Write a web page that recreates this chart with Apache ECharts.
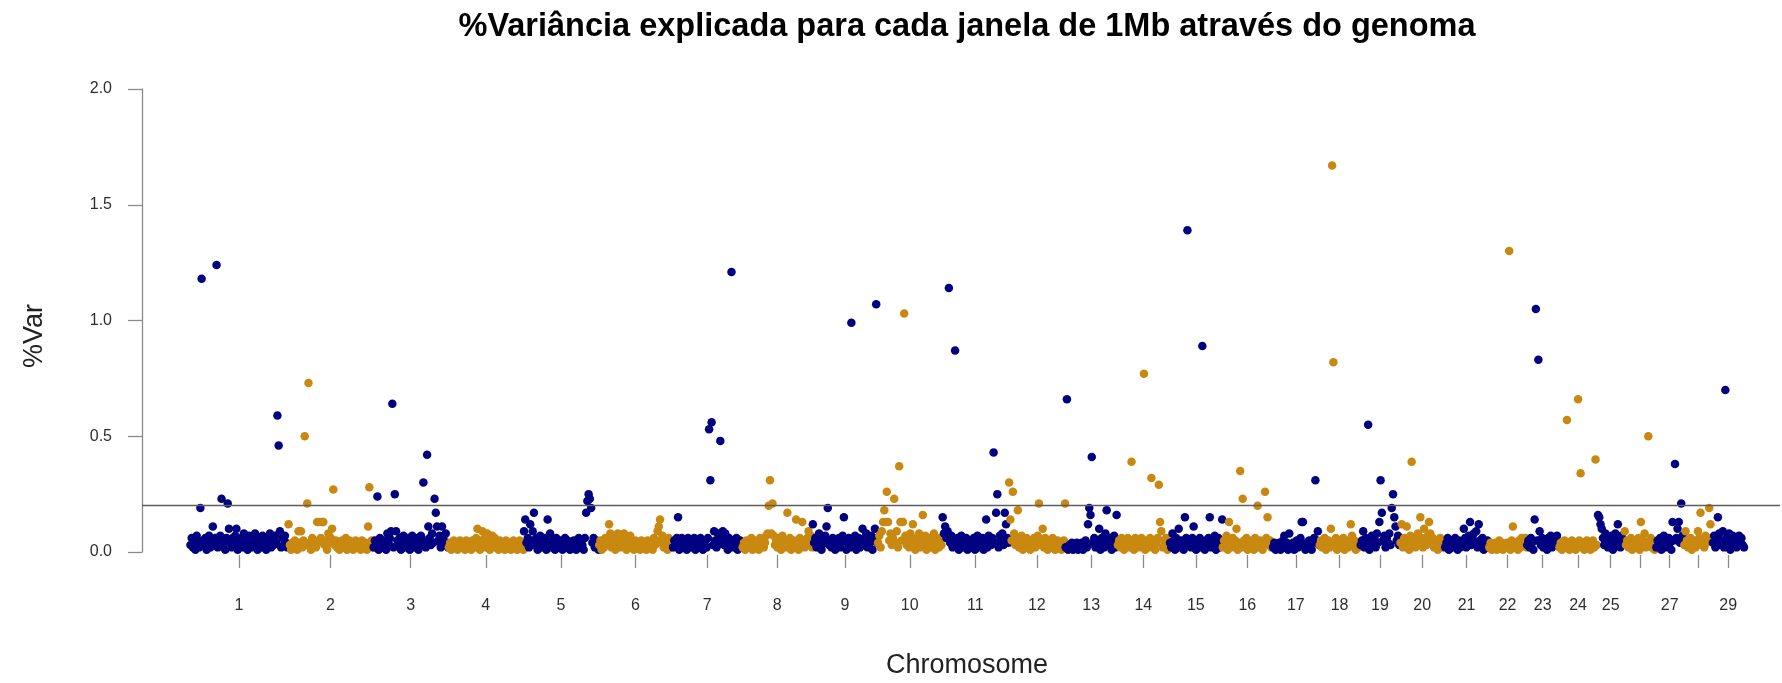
<!DOCTYPE html>
<html>
<head>
<meta charset="utf-8">
<script src="https://cdn.jsdelivr.net/npm/echarts@6/dist/echarts.min.js"></script>
<style>
html,body{margin:0;padding:0;background:#fff;}
#chart{width:1782px;height:683px;}
</style>
</head>
<body>
<div id="chart"></div>
<script>
// Chromosome names and lengths (Mb)
const chromosomes = ['1','2','3','4','5','6','7','8','9','10','11','12','13','14','15','16','17','18','19','20','21','22','23','24','25','26','27','28','29'];
const chromLengthsMb = [158,137,121,121,121,119,112,113,105,104,107,91,84,84,85,81,75,66,64,72,71,61,52,62,43,51,45,46,51];
// chromosome labels that are not printed under their tick
const hiddenTickLabels = ['26','28'];
// windows are listed every 2 Mb along each chromosome
const WINDOW_STEP_MB = 2;
const yTicks = [0, 0.5, 1.0, 1.5, 2.0];
const threshold = 0.2;

// %Var per window
const chr1 = [.03,.06,.02,.05,.01,.07,.04,.02,.19,1.18, .05,.03,.06,.01,.04,.07,.02,.05,.11,.03, .06,1.24,.02,.04,.07,.23,.03,.05,.01,.06, .21,.10,.04,.02,.06,.03,.07,.10,.01,.05, .04,.06,.02,.08,.03,.05,.01,.07,.04,.02, .06,.03,.08,.05,.01,.04,.06,.02,.07,.03, .05,.01,.06,.04,.08,.02,.05,.03,.07,.04, .59,.46,.09,.02,.06,.03,.07,.04,.02];
const chr2 = [.12,.03,.01,.04,.02,.05,.03,.01,.09,.04, .09,.02,.05,.50,.03,.21,.73,.04,.01,.06, .03,.05,.02,.13,.04,.13,.06,.13,.13,.03, .05,.01,.08,.04,.06,.10,.27,.03,.05,.02, .04,.01,.03,.05,.02,.04,.06,.01,.03,.05, .02,.04,.01,.03,.05,.02,.04,.03,.01,.05, .03,.02,.04,.01,.11,.28,.03,.05,.02];
const chr3 = [.02,.05,.03,.24,.01,.06,.04,.02,.05,.03, .01,.08,.04,.06,.09,.64,.02,.25,.09,.05, .03,.06,.01,.04,.07,.02,.05,.03,.06,.01, .04,.07,.02,.05,.03,.06,.01,.04,.07,.03, .30,.05,.02,.42,.11,.06,.03,.08,.04,.23, .17,.11,.05,.07,.02,.11,.06,.03,.08,.04, .02];
const chr4 = [.02,.04,.01,.03,.05,.02,.04,.01,.03,.05, .02,.04,.03,.01,.05,.02,.04,.03,.01,.05, .03,.02,.06,.10,.04,.01,.05,.09,.03,.06, .02,.08,.04,.01,.05,.07,.03,.06,.02,.04, .01,.05,.03,.02,.04,.01,.05,.03,.02,.04, .01,.03,.05,.02,.04,.01,.03,.05,.02,.04, .01];
const chr5 = [.09,.14,.04,.06,.02,.12,.05,.09,.17,.03, .06,.01,.04,.07,.02,.05,.03,.06,.01,.14, .04,.08,.02,.05,.03,.01,.06,.04,.02,.05, .03,.01,.04,.06,.02,.05,.03,.01,.04,.02, .05,.03,.01,.04,.06,.02,.05,.03,.01,.06, .17,.22,.25,.23,.19,.04,.06,.02,.05,.03, .01];
const chr6 = [.03,.05,.01,.04,.02,.06,.03,.05,.12,.08, .02,.04,.06,.01,.03,.08,.05,.02,.04,.06, .08,.03,.01,.05,.02,.07,.04,.03,.01,.05, .02,.04,.03,.01,.05,.02,.04,.03,.01,.05, .03,.02,.04,.01,.06,.03,.05,.09,.11,.14, .04,.07,.02,.05,.03,.01,.06,.04,.02,.03];
const chr7 = [.02,.05,.03,.06,.15,.01,.04,.06,.02,.05, .03,.01,.06,.04,.02,.05,.03,.06,.01,.04, .05,.02,.06,.03,.01,.04,.05,.02,.06,.53, .31,.56,.03,.09,.05,.02,.08,.04,.48,.06, .09,.03,.08,.05,.01,.06,.04,1.21,.02,.05, .03,.06,.01,.04,.05,.02];
const chr8 = [.02,.04,.01,.05,.03,.02,.04,.06,.01,.03, .05,.02,.04,.01,.06,.03,.05,.02,.04,.07, .08,.20,.31,.08,.21,.07,.03,.05,.02,.06, .04,.01,.07,.03,.05,.02,.17,.04,.06,.01, .03,.05,.02,.14,.04,.01,.06,.03,.13,.05, .02,.04,.06,.09,.03,.07,.02];
const chr9 = [.12,.04,.06,.02,.05,.08,.03,.01,.06,.04, .07,.11,.19,.03,.05,.02,.06,.04,.01,.05, .03,.06,.02,.04,.07,.15,.05,.01,.04,.06, .02,.99,.05,.03,.07,.01,.04,.06,.02,.05, .10,.03,.06,.08,.02,.05,.04,.07,.01,.06, .10,1.07,.04];
const chr10 = [.04,.07,.02,.09,.13,.18,.13,.26,.13,.05, .08,.03,.06,.23,.04,.09,.02,.37,.13,.05, .13,1.03,.07,.03,.06,.02,.08,.04,.12,.05, .01,.06,.03,.08,.02,.05,.16,.03,.07,.01, .04,.06,.02,.05,.03,.08,.01,.04,.06,.02, .05,.03];
const chr11 = [.15,.08,.11,.06,.09,1.14,.04,.07,.02,.05, .87,.03,.06,.01,.04,.07,.02,.05,.03,.06, .01,.04,.02,.05,.03,.06,.01,.04,.07,.02, .05,.03,.06,.01,.04,.14,.02,.07,.05,.03, .06,.43,.04,.17,.25,.02,.07,.05,.08,.03, .17,.12,.06,.04];
const chr12 = [.30,.14,.05,.26,.08,.03,.06,.18,.02,.04, .07,.01,.05,.03,.06,.02,.04,.01,.05,.03, .06,.02,.04,.07,.21,.03,.05,.10,.02,.06, .04,.01,.05,.03,.02,.06,.04,.01,.03,.05, .02,.04,.01,.03,.05,.21];
const chr13 = [.02,.66,.01,.03,.02,.04,.01,.03,.02,.04, .01,.03,.02,.04,.01,.03,.05,.02,.12,.19, .16,.41,.04,.06,.02,.05,.03,.10,.01,.06, .04,.02,.08,.18,.05,.03,.06,.01,.04,.07, .02,.16];
const chr14 = [.03,.05,.02,.06,.04,.01,.05,.03,.06,.02, .04,.39,.05,.01,.06,.03,.04,.02,.05,.06, .03,.77,.01,.05,.04,.02,.06,.32,.03,.05, .01,.04,.06,.29,.13,.09,.02,.05,.03,.06, .01,.04];
const chr15 = [.04,.02,.08,.05,.01,.06,.03,.10,.02,.05, .04,.01,.15,.06,1.39,.03,.05,.02,.06,.11, .04,.01,.05,.03,.06,.02,.89,.04,.01,.05, .03,.06,.15,.02,.04,.05,.07,.01,.03,.06, .02,.04,.14];
const chr16 = [.02,.05,.03,.07,.01,.13,.04,.02,.06,.03, .05,.10,.01,.04,.35,.02,.23,.05,.03,.06, .01,.04,.02,.05,.03,.01,.06,.04,.20,.02, .05,.03,.01,.04,.26,.06,.15,.03,.05,.02, .04];
const chr17 = [.02,.04,.01,.03,.02,.04,.01,.03,.05,.07, .02,.04,.01,.08,.03,.02,.04,.01,.03,.05, .02,.04,.06,.13,.13,.03,.01,.04,.02,.05, .03,.01,.04,.06,.31,.05,.09,.03];
const chr18 = [.03,.05,.02,.04,.06,.01,.03,.05,.02,.10, 1.67,.82,.04,.06,.01,.03,.05,.02,.04,.06, .01,.03,.05,.02,.04,.12,.07,.03,.05,.01, .04,.02,.03];
const chr19 = [.03,.05,.09,.02,.06,.04,.55,.01,.05,.07, .03,.06,.02,.08,.04,.13,.31,.17,.05,.07, .02,.06,.04,.08,.03,.19,.25,.15,.11,.05, .07,.03];
const chr20 = [.04,.12,.02,.06,.03,.11,.05,.01,.07,.39, .03,.06,.02,.05,.08,.04,.15,.06,.02,.10, .05,.03,.07,.13,.08,.04,.06,.02,.05,.03, .01,.04,.06,.02,.05,.03];
const chr21 = [.02,.04,.06,.01,.03,.05,.02,.04,.06,.03, .01,.05,.02,.04,.03,.10,.06,.02,.05,.07, .13,.03,.06,.08,.04,.09,.02,.12,.05,.03, .06,.01,.04,.02,.05,.03];
const chr22 = [.02,.04,.01,.03,.02,.04,.01,.03,.05,.02, .04,.01,.03,.02,.04,.03,1.30,.01,.05,.11, .02,.04,.03,.01,.05,.02,.06,.03,.04,.06, .02];
const chr23 = [.03,.05,.02,.06,.04,.01,.14,1.05,.05,.83, .09,.03,.06,.02,.05,.04,.01,.06,.03,.07, .02,.05,.06,.03,.07,.04];
const chr24 = [.02,.04,.01,.03,.05,.02,.57,.04,.01,.03, .05,.02,.04,.01,.03,.66,.05,.34,.02,.04, .01,.03,.05,.02,.04,.01,.03,.05,.02,.40, .03];
const chr25 = [.16,.15,.12,.10,.06,.03,.08,.05,.02,.06, .04,.07,.01,.05,.08,.03,.12,.06,.02,.07, .04,.05];
const chr26 = [.09,.03,.05,.02,.04,.06,.01,.03,.05,.02, .04,.06,.01,.13,.03,.05,.08,.02,.04,.50, .03,.06,.02,.05,.01,.04];
const chr27 = [.02,.05,.03,.06,.01,.04,.07,.02,.05,.03, .06,.04,.01,.13,.05,.38,.06,.10,.13,.04, .21,.07,.05];
const chr28 = [.03,.09,.05,.02,.04,.06,.01,.03,.05,.02, .04,.09,.06,.17,.03,.05,.02,.07,.04,.06, .19,.12,.05];
const chr29 = [.04,.07,.02,.06,.15,.08,.03,.05,.09,.02, .70,.06,.04,.08,.01,.05,.07,.03,.06,.02, .05,.07,.04,.06,.03,.02];

const varByChrom = [chr1,chr2,chr3,chr4,chr5,chr6,chr7,chr8,chr9,chr10,chr11,chr12,chr13,chr14,chr15,chr16,chr17,chr18,chr19,chr20,chr21,chr22,chr23,chr24,chr25,chr26,chr27,chr28,chr29];

const NAVY = '#000080';
const GOLD = '#C9880F';
const FONT = "'Liberation Sans', Arial, Helvetica, sans-serif";

// cumulative genome layout
const starts = [];
let acc = 0;
chromLengthsMb.forEach(l => { starts.push(acc); acc += l; });
const centers = chromLengthsMb.map((l, i) => starts[i] + l / 2);
const labelByCenter = {};
centers.forEach((c, i) => { labelByCenter[String(c)] = chromosomes[i]; });
const labelCenters = centers.filter((c, i) => hiddenTickLabels.indexOf(chromosomes[i]) < 0);

const series = varByChrom.map((vals, ci) => ({
  type: 'scatter',
  name: chromosomes[ci],
  symbol: 'circle',
  symbolSize: 8.5,
  clip: false,
  silent: true,
  itemStyle: { color: ci % 2 === 0 ? NAVY : GOLD, opacity: 1 },
  data: vals.map((v, i) => [starts[ci] + i * WINDOW_STEP_MB + 1, v]),
  z: 2
}));
series.push({
  type: 'line',
  data: [],
  silent: true,
  markLine: {
    silent: true,
    symbol: ['none', 'none'],
    label: { show: false },
    lineStyle: { color: '#5e5e5e', width: 1.3, type: 'solid' },
    data: [{ yAxis: threshold }]
  }
});

const chart = echarts.init(document.getElementById('chart'), null, { renderer: 'canvas' });
chart.setOption({
  animation: false,
  backgroundColor: '#ffffff',
  grid: { left: 142, right: 2, top: 89, bottom: 131, containLabel: false },
  xAxis: {
    type: 'value',
    min: -77,
    max: 2560,
    offset: 3,
    axisLine: { show: false, onZero: false },
    splitLine: { show: false },
    axisTick: {
      show: true,
      customValues: centers,
      length: 13,
      lineStyle: { color: '#8a8a8a', width: 1.3 }
    },
    axisLabel: {
      show: true,
      customValues: labelCenters,
      margin: 43,
      fontFamily: FONT,
      fontSize: 16,
      color: '#2e2e2e',
      formatter: v => labelByCenter[String(v)] || ''
    }
  },
  yAxis: {
    type: 'value',
    min: 0,
    max: 2,
    interval: 0.5,
    axisLine: { show: true, onZero: false, lineStyle: { color: '#8a8a8a', width: 1.3 } },
    axisTick: { show: true, length: 14, lineStyle: { color: '#8a8a8a', width: 1.3 } },
    splitLine: { show: false },
    axisLabel: {
      margin: 30,
      fontFamily: FONT,
      fontSize: 16,
      color: '#2e2e2e',
      formatter: v => yTicks.indexOf(v) >= 0 ? v.toFixed(1) : ''
    }
  },
  graphic: [
    {
      type: 'text', x: 967, y: 27, silent: true,
      style: {
        text: '%Variância explicada para cada janela de 1Mb através do genoma',
        font: "bold 32.5px 'Liberation Sans', Arial, sans-serif",
        fill: '#000', align: 'center', verticalAlign: 'middle'
      }
    },
    {
      type: 'text', x: 967, y: 666, silent: true,
      style: {
        text: 'Chromosome',
        font: "27px 'Liberation Sans', Arial, sans-serif",
        fill: '#222', align: 'center', verticalAlign: 'middle'
      }
    },
    {
      type: 'text', x: 35, y: 336, rotation: Math.PI / 2, silent: true,
      style: {
        text: '%Var',
        font: "27px 'Liberation Sans', Arial, sans-serif",
        fill: '#222', align: 'center', verticalAlign: 'middle'
      }
    }
  ],
  series: series
});
</script>
</body>
</html>
